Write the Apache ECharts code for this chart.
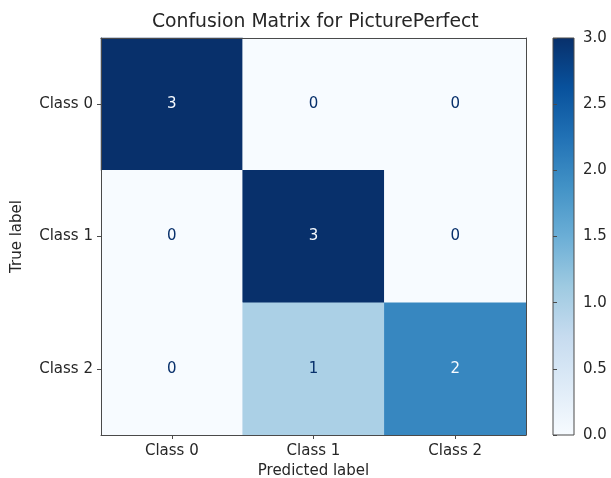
<!DOCTYPE html>
<html>
<head>
<meta charset="utf-8">
<script src="https://cdn.jsdelivr.net/npm/echarts@6/dist/echarts.min.js"></script>
<style>
html,body{margin:0;padding:0;background:#fff;}
#main{width:611px;height:478px;}
</style>
</head>
<body>
<div id="main"></div>
<script>
var predictedLabels = ['Class 0', 'Class 1', 'Class 2'];
var trueLabels = ['Class 0', 'Class 1', 'Class 2'];
// rows = true label, columns = predicted label
var matrixRow0 = [3, 0, 0];
var matrixRow1 = [0, 3, 0];
var matrixRow2 = [0, 1, 2];
var colorbarTicks = [0.0, 0.5, 1.0, 1.5, 2.0, 2.5, 3.0];
var blues = ['#f7fbff', '#deebf7', '#c6dbef', '#9ecae1', '#6baed6', '#4292c6', '#2171b5', '#08519c', '#08306b'];

var rows = [matrixRow0, matrixRow1, matrixRow2];
var vmin = 0, vmax = 3;
var threshold = (vmin + vmax) / 2;
var data = [];
rows.forEach(function (row, r) {
  row.forEach(function (v, c) {
    data.push({
      value: [c, r, v],
      label: { color: v >= threshold ? blues[0] : blues[8] }
    });
  });
});

var font = 'DejaVu Sans';
var txt = '#262626';
var lineCol = '#4a4a4a';
var stops = blues.map(function (c, i) { return { offset: i / (blues.length - 1), color: c }; });

var chart = echarts.init(document.getElementById('main'), null, { renderer: 'canvas' });
chart.setOption({
  backgroundColor: '#ffffff',
  animation: false,
  title: {
    text: 'Confusion Matrix for PicturePerfect',
    left: 147, top: 8,
    textStyle: { fontFamily: font, fontSize: 18.8, fontWeight: 'normal', color: txt }
  },
  grid: [
    { left: 101, right: 85, top: 38, bottom: 43, containLabel: false, outerBoundsMode: 'none' },
    { left: 553, width: 21, top: 38, bottom: 43, show: true, containLabel: false, outerBoundsMode: 'none',
      borderColor: lineCol, borderWidth: 1,
      backgroundColor: new echarts.graphic.LinearGradient(0, 1, 0, 0, stops) }
  ],
  xAxis: [
    { type: 'category', gridIndex: 0, data: predictedLabels, position: 'bottom', z: 10,
      name: 'Predicted label', nameLocation: 'middle', nameGap: 28,
      nameTextStyle: { fontFamily: font, fontSize: 15, color: txt },
      axisLine: { show: true, lineStyle: { color: lineCol, width: 1 } },
      axisTick: { show: true, alignWithLabel: true, length: 4, lineStyle: { color: lineCol } },
      axisLabel: { fontFamily: font, fontSize: 15, color: txt, margin: 9 },
      splitLine: { show: false } },
    { type: 'category', gridIndex: 0, data: predictedLabels, position: 'top', z: 10,
      axisLine: { show: true, lineStyle: { color: lineCol, width: 1 } },
      axisTick: { show: false }, axisLabel: { show: false }, splitLine: { show: false } },
    { type: 'value', gridIndex: 1, min: 0, max: 1, show: false }
  ],
  yAxis: [
    { type: 'category', gridIndex: 0, data: trueLabels, inverse: true, position: 'left', z: 10,
      name: 'True label', nameLocation: 'middle', nameGap: 76, nameRotate: 90,
      nameTextStyle: { fontFamily: font, fontSize: 15, color: txt },
      axisLine: { show: true, lineStyle: { color: lineCol, width: 1 } },
      axisTick: { show: true, alignWithLabel: true, length: 4, lineStyle: { color: lineCol } },
      axisLabel: { fontFamily: font, fontSize: 15, color: txt, margin: 8 },
      splitLine: { show: false } },
    { type: 'category', gridIndex: 0, data: trueLabels, inverse: true, position: 'right', z: 10,
      axisLine: { show: true, lineStyle: { color: lineCol, width: 1 } },
      axisTick: { show: false }, axisLabel: { show: false }, splitLine: { show: false } },
    { type: 'value', gridIndex: 1, min: colorbarTicks[0], max: colorbarTicks[colorbarTicks.length - 1],
      interval: 0.5, position: 'right',
      axisLine: { show: false },
      axisTick: { show: true, length: 4, lineStyle: { color: lineCol } },
      axisLabel: { fontFamily: font, fontSize: 15, color: txt, margin: 9,
        formatter: function (v) { return v.toFixed(1); } },
      splitLine: { show: false } }
  ],
  visualMap: {
    show: false, type: 'continuous', min: vmin, max: vmax, seriesIndex: 0,
    inRange: { color: blues }
  },
  series: [{
    type: 'heatmap',
    xAxisIndex: 0, yAxisIndex: 0,
    data: data,
    label: { show: true, fontFamily: font, fontSize: 15 },
    itemStyle: { borderWidth: 0 },
    emphasis: { disabled: true }
  }]
});
</script>
</body>
</html>
